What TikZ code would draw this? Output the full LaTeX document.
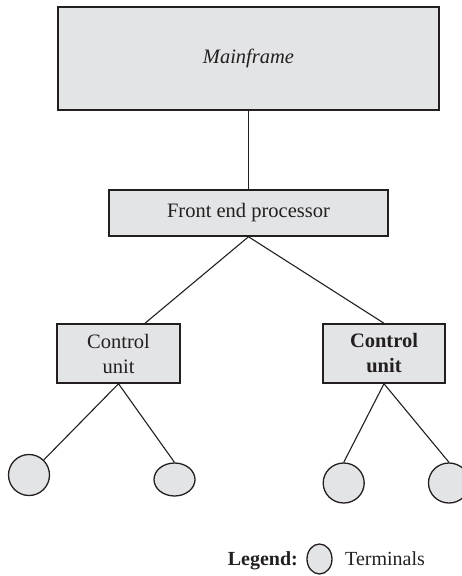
\documentclass[tikz,border=0pt]{standalone}
\usepackage{fontspec}
\setmainfont{Liberation Serif}
\usepackage{xcolor}
\definecolor{boxfill}{HTML}{E3E4E6}
\definecolor{ink}{HTML}{231F20}
\tikzset{
  unitbox/.style={draw=ink, line width=1.5pt, fill=boxfill, inner sep=0pt,
    align=center, text=ink, font=\fontsize{20.5}{25}\selectfont},
  terminal/.style={draw=ink, line width=1.3pt, fill=boxfill, inner sep=0pt, ellipse},
  link/.style={draw=ink, line width=1.1pt},
  label/.style={text=ink, inner sep=0pt, font=\fontsize{20}{24}\selectfont}
}
\usetikzlibrary{shapes.geometric}
\begin{document}
\begin{tikzpicture}[x=1pt, y=-1pt]
  \useasboundingbox (0,0) rectangle (462,576);
  \clip (0,0) rectangle (462,576);

  % hierarchy of units
  \node[unitbox, minimum width=381pt, minimum height=103pt] (mf) at (248.5,58.5) {\itshape Mainframe};
  \node[unitbox, minimum width=279pt, minimum height=46pt] (fep) at (248.5,213) {Front end processor};
  \node[unitbox, minimum width=123pt, minimum height=59pt] (cu1) at (118.5,353.5) {Control\\unit};
  \node[unitbox, minimum width=122pt, minimum height=59pt] (cu2) at (384,353.5) {\bfseries Control\\\bfseries unit};

  % terminals
  \node[terminal, minimum width=41pt, minimum height=41pt] (t1) at (29,475) {};
  \node[terminal, minimum width=41pt, minimum height=33pt] (t2) at (174.5,479.5) {};
  \node[terminal, minimum width=41pt, minimum height=40pt] (t3) at (343.7,483) {};
  \node[terminal, minimum width=41pt, minimum height=40pt] (t4) at (449,483) {};

  % connections
  \draw[link] (mf.south) -- (fep.north);
  \draw[link] (fep.south) -- ([xshift=26.5pt]cu1.north);
  \draw[link] (fep.south) -- (cu2.north);
  \draw[link] (cu1.south) -- (t1);
  \draw[link] (cu1.south) -- (t2.north);
  \draw[link] (cu2.south) -- (t3.north);
  \draw[link] (cu2.south) -- (t4.north);

  % legend
  \node[label, anchor=base east] (lg) at (298,565) {\bfseries Legend:};
  \node[terminal, minimum width=25pt, minimum height=30pt] (lt) at (319.5,559) {};
  \node[label, anchor=base west] (lt-text) at (345,565) {Terminals};
\end{tikzpicture}
\end{document}
